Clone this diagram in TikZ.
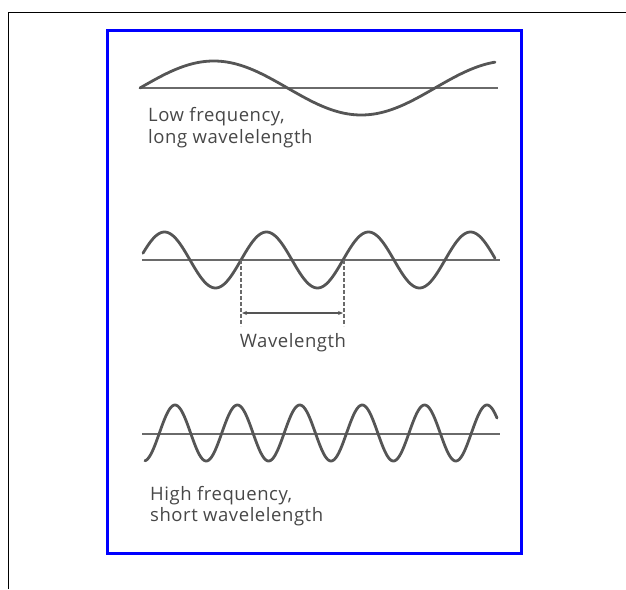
\documentclass[tikz,border=0pt]{standalone}
\usepackage{fontspec}
\setmainfont{Open Sans}
\newfontfamily\lblfont[LetterSpace=3]{Open Sans}
\usetikzlibrary{arrows.meta}
\definecolor{wavegray}{HTML}{555555}
\definecolor{axisgray}{HTML}{6A6A6A}
\definecolor{textgray}{HTML}{474747}
\begin{document}
\begin{tikzpicture}[x=1pt,y=-1pt,
  wave/.style={draw=wavegray,line width=2.8pt,line cap=round,line join=round},
  axis/.style={draw=axisgray,line width=1.4pt},
  lbl/.style={text=textgray,font=\lblfont\fontsize{18.5}{20}\selectfont,inner sep=0pt,anchor=base west},
  dashv/.style={draw=axisgray,line width=1.1pt,dash pattern=on 3.5pt off 2.5pt},
  measure/.style={draw=wavegray,line width=1.3pt,{Stealth[length=5pt,width=4pt]}-{Stealth[length=5pt,width=4pt]}}]
\useasboundingbox (0,0) rectangle (626,589);
% outer black frame
\coordinate (fa) at (8.5,589);
\coordinate (fb) at (8.5,12);
\coordinate (fc) at (626,12);
\draw[black,line width=1pt] (fa) -- (fb) -- (fc);
% blue frame
\coordinate (ba) at (107,30);
\coordinate (bb) at (521,553);
\draw[blue,line width=3pt] (ba) rectangle (bb);
% wave 1
\coordinate (a1l) at (140,88);
\coordinate (a1r) at (498,88);
\draw[axis] (a1l) -- (a1r);
\draw[wave] plot[domain=140:495,samples=150,smooth] (\x,{88-27*sin((\x-140)/295*360)});
\node[lbl] (low1) at (148,121) {Low frequency,};
\node[lbl] (low2) at (148,143) {long wavelelength};
% wave 2
\coordinate (a2l) at (142,260);
\coordinate (a2r) at (500,260);
\draw[axis] (a2l) -- (a2r);
\draw[wave] plot[domain=143:495,samples=250,smooth] (\x,{260-28*sin((\x-241)/102*360)});
\coordinate (d1t) at (241,260);
\coordinate (d1b) at (241,326);
\coordinate (d2t) at (344,260);
\coordinate (d2b) at (344,326);
\draw[dashv] (d1t) -- (d1b);
\draw[dashv] (d2t) -- (d2b);
\coordinate (m1) at (242,313);
\coordinate (m2) at (343,313);
\draw[measure] (m1) -- (m2);
\node[lbl,anchor=base] (wl) at (293,347) {Wavelength};
% wave 3
\coordinate (a3l) at (142,434);
\coordinate (a3r) at (500,434);
\draw[axis] (a3l) -- (a3r);
\draw[wave] plot[domain=145:497,samples=350,smooth] (\x,{433-28*sin((\x-159.4)/62.4*360)});
\node[lbl] (high1) at (150,500) {High frequency,};
\node[lbl] (high2) at (150,521) {short wavelelength};
\end{tikzpicture}
\end{document}
